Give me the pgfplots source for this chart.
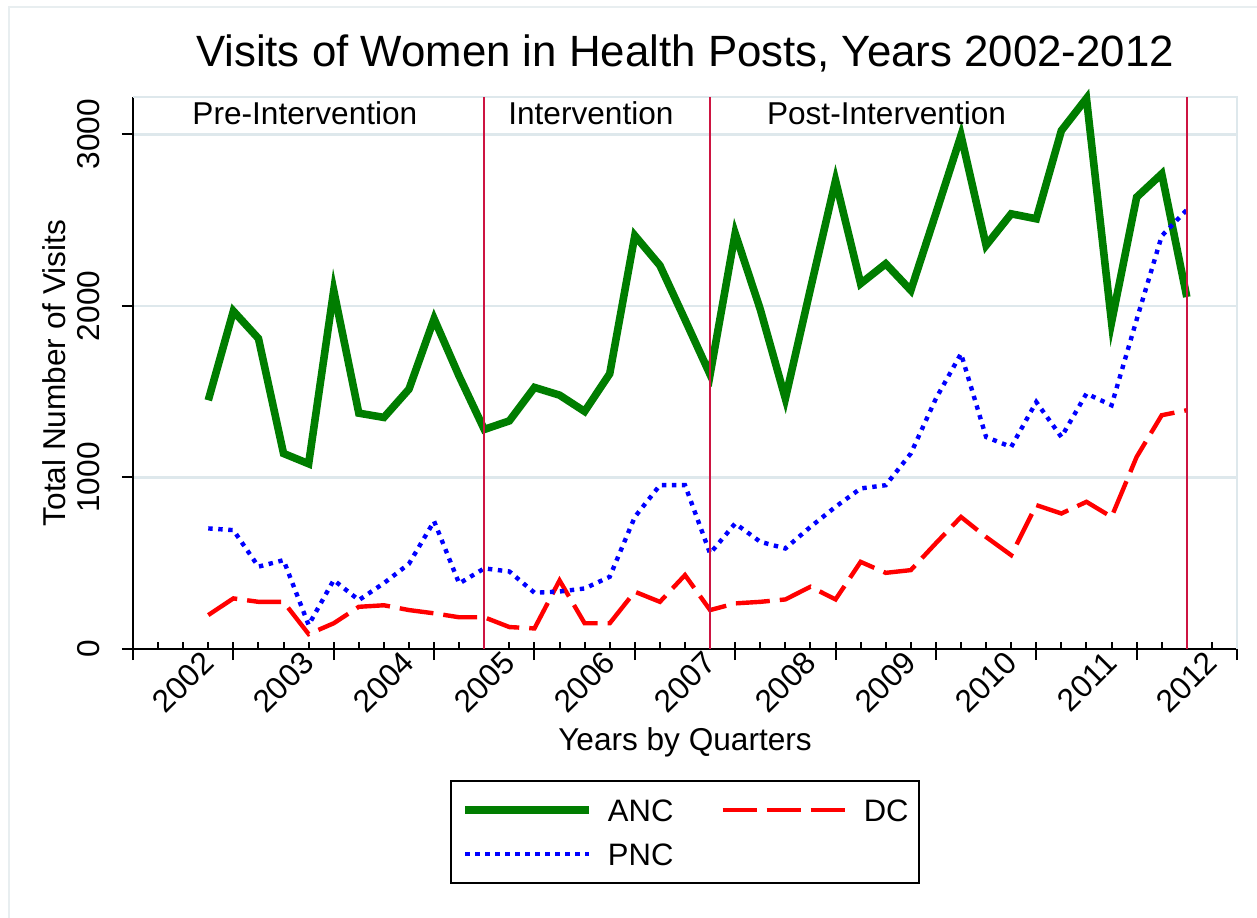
\documentclass[border=0pt]{standalone}
\usepackage{fontspec}
\setmainfont{Liberation Sans}
\usepackage{pgfplots}
\usepackage{pgfplotstable}
\pgfplotsset{compat=1.18}
\definecolor{ancgreen}{RGB}{0,125,0}
\definecolor{pncblue}{RGB}{0,0,255}
\definecolor{dcred}{RGB}{255,0,0}
\definecolor{xlinec}{RGB}{205,20,65}
\definecolor{gridc}{RGB}{222,232,236}
\definecolor{framec}{RGB}{232,238,240}

\pgfplotstableread{
q anc pnc dc
0 1450 703 198
1 1970 693 295
2 1810 480 275
3 1140 518 275
4 1080 140 87
5 2090 402 150
6 1375 285 246
7 1350 384 255
8 1515 497 227
9 1925 745 208
10 1590 382 185
11 1280 470 185
12 1330 452 128
13 1525 328 120
14 1480 335 400
15 1385 353 150
16 1605 421 150
17 2410 770 334
18 2236 955 275
19 1920 955 431
20 1600 557 227
21 2423 732 266
22 1980 625 275
23 1460 586 289
24 2100 712 363
25 2731 829 289
26 2130 936 508
27 2246 955 444
28 2091 1140 460
29 2540 1460 617
30 2994 1722 770
31 2353 1236 653
32 2537 1178 547
33 2508 1440 839
34 3022 1236 790
35 3210 1489 858
36 1905 1421 770
37 2634 1920 1120
38 2770 2408 1363
39 2052 2560 1392
}\datatable

\newcommand{\lbl}{\fontsize{15.8bp}{19bp}\selectfont}

\begin{document}
\begin{tikzpicture}
\path[use as bounding box] (0,0) rectangle (628.5bp,-459bp);
\draw[framec, line width=1bp] (4.5bp,-459bp) -- (4.5bp,-3.5bp) -- (628.5bp,-3.5bp);
\begin{axis}[
  at={(66.5bp,-324.5bp)}, anchor=south west,
  width=552bp, height=276bp, scale only axis,
  xmin=-3, xmax=41, ymin=0, ymax=3218,
  clip=false,
  axis x line*=bottom, axis y line*=left,
  axis line style={-, line width=1bp, black},
  tick align=outside,
  major tick length=5.5bp,
  minor tick length=3.5bp,
  tick style={line width=1bp, black},
  minor tick style={yshift=3.5bp},
  xtick={-3,1,...,41},
  xticklabels={},
  minor xtick={-3,-2,...,41},
  extra x ticks={0,4,...,40},
  extra x tick labels={2002,2003,2004,2005,2006,2007,2008,2009,2010,2011,2012},
  extra x tick style={major tick length=0pt},
  xticklabel style={font=\lbl, yshift=-4bp, rotate=45, anchor=east, inner sep=0pt},
  ytick={0,1000,2000,3000},
  yticklabels={0,1000,2000,3000},
  yticklabel style={font=\lbl, xshift=-11bp, rotate=90, anchor=south, inner sep=0pt},
  ymajorgrids,
  grid style={gridc, line width=1.3bp},
  title={Visits of Women in Health Posts, Years 2002-2012},
  title style={at={(axis description cs:0.5,1.0339)}, anchor=base, font=\fontsize{21.9bp}{26bp}\selectfont},
  xlabel={Years by Quarters},
  xlabel style={at={(axis description cs:0.5,-0.183)}, anchor=base, font=\lbl},
  ylabel={Total Number of Visits},
  ylabel style={at={(axis description cs:-0.0607,0.5)}, anchor=base, font=\lbl},
  legend columns=2,
  legend cell align=left,
  legend image code/.code={\draw[#1] (0bp,0bp) -- (62bp,0bp);},
  legend style={at={(axis description cs:0.5,-0.2373)}, anchor=north,
    draw=black, line width=1bp, font=\fontsize{15.5bp}{18bp}\selectfont,
    inner xsep=5bp, inner ysep=9bp, row sep=11bp,
    nodes={inner sep=0pt, text height=11bp, text depth=0bp},
    /tikz/every odd column/.append style={column sep=7.5bp},
    /tikz/every even column/.append style={column sep=23.5bp}},
]
\draw[gridc, line width=1.3bp] (rel axis cs:0,1) -- (rel axis cs:1,1) -- (rel axis cs:1,0);
\addplot[ancgreen, line width=3.8bp] table[x=q, y=anc] {\datatable};
\addlegendentry{ANC}
\addplot[dcred, line width=2.2bp, dash pattern=on 17bp off 5bp] table[x=q, y=dc] {\datatable};
\addlegendentry{DC}
\addplot[pncblue, line width=2.2bp, dash pattern=on 2.2bp off 2.8bp] table[x=q, y=pnc] {\datatable};
\addlegendentry{PNC}
\addplot[xlinec, line width=1.1bp, forget plot] coordinates {(11,0) (11,3218)};
\addplot[xlinec, line width=1.1bp, forget plot] coordinates {(20,0) (20,3218)};
\addplot[xlinec, line width=1.1bp, forget plot] coordinates {(39,0) (39,3218)};
\node[font=\lbl, anchor=base] at (axis cs:3.85,3058) {Pre-Intervention};
\node[font=\lbl, anchor=base] at (axis cs:15.25,3058) {Intervention};
\node[font=\lbl, anchor=base] at (axis cs:27.03,3058) {Post-Intervention};
\end{axis}
\end{tikzpicture}
\end{document}
